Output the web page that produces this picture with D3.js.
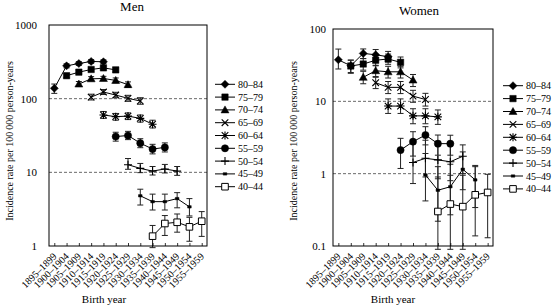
<!DOCTYPE html>
<html>
<head>
<meta charset="utf-8">
<script src="https://cdn.jsdelivr.net/npm/d3@7"></script>
<style>
body { margin: 0; background: #fff; }
svg text { font-family: "Liberation Serif", "DejaVu Serif", serif !important; fill: #000; }
</style>
</head>
<body>
<div id="chart"></div>
<script>
// birth cohorts (x categories) and age groups (series)
var birthYears = ['1895–1899', '1900–1904', '1905–1909', '1910–1914', '1915–1919', '1920–1924',
    '1925–1929', '1930–1934', '1935–1939', '1940–1944', '1945–1949', '1950–1954', '1955–1959'];
var ageGroups = ['80–84', '75–79', '70–74', '65–69', '60–64', '55–59', '50–54', '45–49', '40–44'];
var markerTypes = ['diamond', 'square', 'triangle', 'cross', 'star', 'circle', 'plus', 'dash', 'open'];

var _ = null;

// men: rate per 100000, with lower / upper limits
var menRate = [
    [138, 279, 300, 320, 317, _, _, _, _, _, _, _, _],
    [_, 205, 229, 249, 262, 246, _, _, _, _, _, _, _],
    [_, _, 158, 186, 188, 177, 155, _, _, _, _, _, _],
    [_, _, _, 105, 123, 112, 101, 93, _, _, _, _, _],
    [_, _, _, _, 60, 57, 58, 54, 45, _, _, _, _],
    [_, _, _, _, _, 30.6, 31.6, 24.9, 20.7, 21.8, _, _, _],
    [_, _, _, _, _, _, 12.7, 11.3, 10.4, 11.1, 10.4, _, _],
    [_, _, _, _, _, _, _, 4.8, 4.0, 4.0, 4.4, 3.4, _],
    [_, _, _, _, _, _, _, _, 1.36, 2.02, 2.1, 1.82, 2.17]
];
var menLower = [
    [118, 262, 283, 302, 299, _, _, _, _, _, _, _, _],
    [_, 193, 216, 236, 248, 230, _, _, _, _, _, _, _],
    [_, _, 146, 174, 176, 164, 142, _, _, _, _, _, _],
    [_, _, _, 96, 114, 103, 92, 84, _, _, _, _, _],
    [_, _, _, _, 54, 51, 52, 48, 40, _, _, _, _],
    [_, _, _, _, _, 26.5, 27.8, 21.6, 17.8, 18.9, _, _, _],
    [_, _, _, _, _, _, 11, 9.9, 9.2, 9.8, 9.1, _, _],
    [_, _, _, _, _, _, _, 3.6, 3.08, 3.08, 3.3, 2.56, _],
    [_, _, _, _, _, _, _, _, 0.95, 1.39, 1.54, 1.16, 1.35]
];
var menUpper = [
    [158, 297, 318, 339, 336, _, _, _, _, _, _, _, _],
    [_, 218, 242, 263, 276, 262, _, _, _, _, _, _, _],
    [_, _, 171, 199, 201, 191, 169, _, _, _, _, _, _],
    [_, _, _, 115, 133, 122, 111, 103, _, _, _, _, _],
    [_, _, _, _, 67, 63, 64, 60, 51, _, _, _, _],
    [_, _, _, _, _, 35, 36, 28.6, 24, 25.1, _, _, _],
    [_, _, _, _, _, _, 15.4, 13.2, 12, 12.8, 12, _, _],
    [_, _, _, _, _, _, _, 5.9, 5.06, 5.06, 5.3, 4.4, _],
    [_, _, _, _, _, _, _, _, 1.9, 2.59, 2.72, 2.45, 2.93]
];

// women
var womenRate = [
    [37.5, 31, 46, 44, 41.4, _, _, _, _, _, _, _, _],
    [_, 30.8, 32.8, 37, 38.5, 34.6, _, _, _, _, _, _, _],
    [_, _, 21.5, 26.5, 25.6, 25.6, 19.7, _, _, _, _, _, _],
    [_, _, _, 18.1, 15.6, 15.6, 11.8, 10.6, _, _, _, _, _],
    [_, _, _, _, 8.6, 8.6, 6.3, 6.3, 6.1, _, _, _, _],
    [_, _, _, _, _, 2.12, 2.77, 3.42, 2.6, 2.6, _, _, _],
    [_, _, _, _, _, _, 1.43, 1.63, 1.55, 1.46, 1.74, _, _],
    [_, _, _, _, _, _, _, 0.96, 0.59, 0.66, 1.15, 0.82, _],
    [_, _, _, _, _, _, _, _, 0.30, 0.38, 0.35, 0.51, 0.55]
];
var womenLower = [
    [28, 25, 39, 37, 35, _, _, _, _, _, _, _, _],
    [_, 24.4, 27, 31, 32.5, 29, _, _, _, _, _, _, _],
    [_, _, 17.5, 22, 21, 21, 16, _, _, _, _, _, _],
    [_, _, _, 15, 12.8, 12.8, 9.7, 8.6, _, _, _, _, _],
    [_, _, _, _, 6.8, 6.8, 4.9, 4.9, 4.8, _, _, _, _],
    [_, _, _, _, _, 1.18, 1.75, 2.5, 1.8, 1.8, _, _, _],
    [_, _, _, _, _, _, 0.73, 0.9, 0.85, 0.8, 1.0, _, _],
    [_, _, _, _, _, _, _, 0.42, 0.22, 0.27, 0.6, 0.34, _],
    [_, _, _, _, _, _, _, _, 0.09, 0.09, 0.09, 0.138, 0.13]
];
var womenUpper = [
    [52.8, 37, 53, 52, 49, _, _, _, _, _, _, _, _],
    [_, 37.2, 39, 43.5, 45, 41, _, _, _, _, _, _, _],
    [_, _, 26, 31.5, 30.5, 30.5, 23.5, _, _, _, _, _, _],
    [_, _, _, 21.5, 18.8, 18.8, 14.2, 12.9, _, _, _, _, _],
    [_, _, _, _, 10.8, 10.8, 7.9, 7.9, 7.6, _, _, _, _],
    [_, _, _, _, _, 3.08, 3.8, 4.46, 3.42, 3.4, _, _, _],
    [_, _, _, _, _, _, 2.6, 2.9, 2.8, 2.7, 2.5, _, _],
    [_, _, _, _, _, _, _, 1.9, 1.25, 1.35, 2.0, 1.3, _],
    [_, _, _, _, _, _, _, _, 0.9, 0.95, 0.95, 1.25, 0.98]
];

var menTicks = [1, 10, 100, 1000];
var womenTicks = [0.1, 1, 10, 100];

var serif = '"Liberation Serif", "DejaVu Serif", serif';

var svg = d3.select('#chart').append('svg')
    .attr('width', 552).attr('height', 307)
    .attr('font-family', serif);

// marker shapes, centred on 0,0
function markerPath(type) {
    switch (type) {
        case 'diamond': return 'M0,-4L4,0L0,4L-4,0Z';
        case 'square': return 'M-3.2,-3.2h6.4v6.4h-6.4Z';
        case 'triangle': return 'M0,-4L4,3L-4,3Z';
        case 'cross': return 'M-3.3,-3.3L3.3,3.3M-3.3,3.3L3.3,-3.3';
        case 'star': return 'M-3.3,-3.3L3.3,3.3M-3.3,3.3L3.3,-3.3M0,-4V4M-4,0H4';
        case 'circle': return 'M3.6,0A3.6,3.6 0 1,1 -3.6,0A3.6,3.6 0 1,1 3.6,0Z';
        case 'plus': return 'M0,-4V4M-4,0H4';
        case 'dash': return 'M-1.8,-1.2h3.6v2.4h-3.6Z';
        default: return 'M-3.3,-3.3h6.6v6.6h-6.6Z';
    }
}

function drawMarker(g, type, cx, cy) {
    var p = g.append('path')
        .attr('d', markerPath(type))
        .attr('transform', 'translate(' + cx + ',' + cy + ')');
    if (type == 'cross' || type == 'star' || type == 'plus') {
        p.attr('fill', 'none').attr('stroke', '#000').attr('stroke-width', 1.1);
    } else if (type == 'open') {
        p.attr('fill', '#fff').attr('stroke', '#000').attr('stroke-width', 1);
    } else {
        p.attr('fill', '#000').attr('stroke', '#000').attr('stroke-width', 0.5);
    }
}

function drawPanel(cfg) {
    var g = svg.append('g');

    var x = d3.scalePoint().domain(birthYears)
        .range([cfg.left, cfg.right]).padding(0.43);
    var y = d3.scaleLog().domain(cfg.domain)
        .range([cfg.bottom, cfg.top]);

    // dashed reference lines
    g.selectAll('.grid').data(cfg.grid).enter().append('line')
        .attr('x1', cfg.left).attr('x2', cfg.right)
        .attr('y1', function(d) { return y(d); })
        .attr('y2', function(d) { return y(d); })
        .attr('stroke', '#444').attr('stroke-width', 0.8)
        .attr('stroke-dasharray', '3,2');

    // error bars
    var eg = g.append('g').attr('stroke', '#222').attr('stroke-width', 1);
    cfg.rate.forEach(function(row, s) {
        row.forEach(function(v, i) {
            if (v == null) return;
            var cx = x(birthYears[i]);
            var y0 = y(cfg.lower[s][i]), y1 = y(cfg.upper[s][i]);
            eg.append('line').attr('x1', cx).attr('x2', cx).attr('y1', y0).attr('y2', y1);
            eg.append('line').attr('x1', cx - 3).attr('x2', cx + 3).attr('y1', y0).attr('y2', y0);
            eg.append('line').attr('x1', cx - 3).attr('x2', cx + 3).attr('y1', y1).attr('y2', y1);
        });
    });

    // series lines
    var line = d3.line()
        .defined(function(d) { return d != null; })
        .x(function(d, i) { return x(birthYears[i]); })
        .y(function(d) { return y(d); });

    g.selectAll('.series').data(cfg.rate).enter().append('path')
        .attr('d', line)
        .attr('fill', 'none').attr('stroke', '#000').attr('stroke-width', 1);

    // markers
    cfg.rate.forEach(function(row, s) {
        row.forEach(function(v, i) {
            if (v == null) return;
            drawMarker(g, markerTypes[s], x(birthYears[i]), y(v));
        });
    });

    // frame
    g.append('rect')
        .attr('x', cfg.left).attr('y', cfg.top)
        .attr('width', cfg.right - cfg.left).attr('height', cfg.bottom - cfg.top)
        .attr('fill', 'none').attr('stroke', '#000').attr('stroke-width', 1);

    // y axis
    var yAxis = g.append('g')
        .attr('transform', 'translate(' + cfg.left + ',0)')
        .call(d3.axisLeft(y).tickValues(cfg.ticks).tickSize(0)
            .tickPadding(cfg.pad).tickFormat(d3.format('')));
    yAxis.attr('font-family', serif).attr('font-size', 11);
    yAxis.select('.domain').remove();

    // x axis, ticks pointing inward
    var xAxis = g.append('g')
        .attr('transform', 'translate(0,' + cfg.bottom + ')')
        .call(d3.axisBottom(x).tickSizeInner(-3).tickSizeOuter(0));
    xAxis.attr('font-family', serif).attr('font-size', 10);
    xAxis.select('.domain').remove();
    xAxis.selectAll('line').attr('stroke', '#000').attr('stroke-width', 0.8);
    xAxis.selectAll('text')
        .attr('x', -6).attr('y', 6).attr('dy', '0.35em')
        .attr('transform', 'rotate(-45)')
        .style('text-anchor', 'end');

    // titles
    g.append('text').attr('x', cfg.titleX).attr('y', cfg.titleY)
        .attr('text-anchor', 'middle').attr('font-size', 13).text(cfg.title);
    g.append('text').attr('x', cfg.xLabelX).attr('y', 303)
        .attr('text-anchor', 'middle').attr('font-size', 11).text('Birth year');
    g.append('text')
        .attr('transform', 'translate(' + cfg.yLabelX + ',141) rotate(-90)')
        .attr('text-anchor', 'middle').attr('font-size', 10)
        .text('Incidence rate per 100\u2009000 person-years');

    // legend
    var lg = g.append('g');
    ageGroups.forEach(function(name, s) {
        var ly = cfg.legendY + s * cfg.legendStep;
        lg.append('line')
            .attr('x1', cfg.legendX).attr('x2', cfg.legendX + 20)
            .attr('y1', ly).attr('y2', ly)
            .attr('stroke', '#000').attr('stroke-width', 1);
        drawMarker(lg, markerTypes[s], cfg.legendX + 10, ly);
        lg.append('text').attr('x', cfg.legendX + 23).attr('y', ly).attr('dy', '0.35em')
            .attr('font-size', 10).text(name);
    });
}

drawPanel({
    title: 'Men', titleX: 132, titleY: 11,
    left: 49, right: 207, top: 25, bottom: 246,
    domain: [1, 1000], ticks: menTicks, grid: [10, 100], pad: 12,
    rate: menRate, lower: menLower, upper: menUpper,
    xLabelX: 104, yLabelX: 13,
    legendX: 215, legendY: 84.3, legendStep: 12.8
});

drawPanel({
    title: 'Women', titleX: 419, titleY: 15,
    left: 333, right: 493, top: 29, bottom: 246,
    domain: [0.1, 100], ticks: womenTicks, grid: [1, 10], pad: 7,
    rate: womenRate, lower: womenLower, upper: womenUpper,
    xLabelX: 393, yLabelX: 297,
    legendX: 503, legendY: 85.7, legendStep: 12.9
});
</script>
</body>
</html>
